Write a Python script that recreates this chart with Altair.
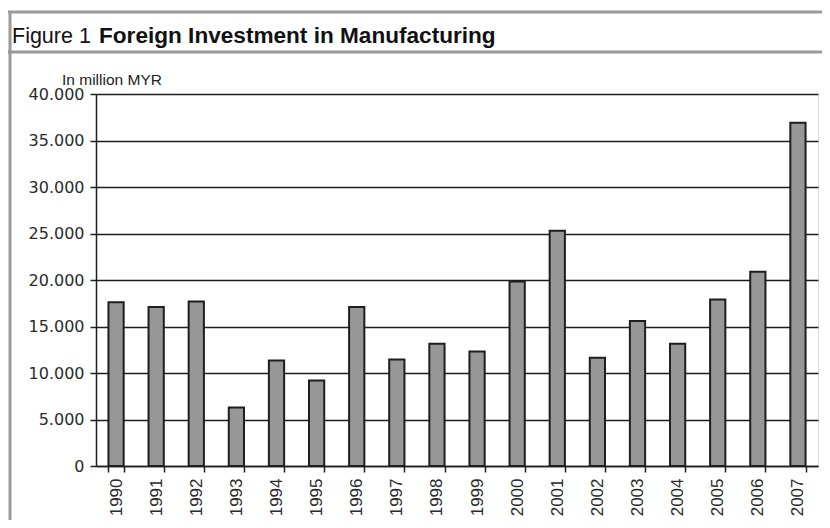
import altair as alt
import pandas as pd

years = [str(y) for y in range(1990, 2008)]
values = [17600, 17100, 17700, 6300, 11350, 9200, 17100, 11450, 13150,
          12300, 19850, 25300, 11650, 15600, 13150, 17900, 20900, 36900]
y_ticks = [0, 5000, 10000, 15000, 20000, 25000, 30000, 35000, 40000]

df = pd.DataFrame({"year": years, "value": values})

W, H = 722, 372
FONT = "Liberation Sans"
DARK = "#1e1e1e"
FRAME = "#9a9a9a"

bars = alt.Chart(df).mark_bar(fill="#979797", stroke=DARK, strokeWidth=2).encode(
    x=alt.X("year:N", sort=years,
            scale=alt.Scale(paddingInner=0.62, paddingOuter=0.31),
            axis=alt.Axis(title=None, labelAngle=-90, labelFontSize=17, labelFont=FONT,
                          labelColor="#2a2a2a", tickBand="extent", tickSize=6, tickColor=DARK,
                          tickWidth=1.5, domainColor=DARK, domainWidth=1.5, labelPadding=6,
                          grid=False, labelAlign="right", labelBaseline="middle")),
    y=alt.Y("value:Q", scale=alt.Scale(domain=[0, 40000], nice=False),
            axis=alt.Axis(title=None, values=y_ticks,
                          labelExpr="replace(format(datum.value, ','), ',', '.')",
                          labelFontSize=16, labelFont="DejaVu Sans", labelColor="#2a2a2a",
                          tickSize=6, tickColor=DARK, tickWidth=1.5, domainColor=DARK,
                          domainWidth=1.5, labelPadding=6, grid=True, gridColor=DARK,
                          gridWidth=1.5)),
)

one = alt.Data(values=[{}])

frame_top = alt.Chart(one).mark_rule(color=FRAME, strokeWidth=3).encode(
    x=alt.value(-88), x2=alt.value(740), y=alt.value(-82))
frame_sep = alt.Chart(one).mark_rule(color=FRAME, strokeWidth=3).encode(
    x=alt.value(-88), x2=alt.value(740), y=alt.value(-42))
frame_left = alt.Chart(one).mark_rule(color=FRAME, strokeWidth=3).encode(
    x=alt.value(-86), y=alt.value(-83), y2=alt.value(440))

fig_label = alt.Chart(one).mark_text(text="Figure 1", align="left", baseline="alphabetic",
                                      fontSize=21.5, font=FONT, color="#111").encode(
    x=alt.value(-84), y=alt.value(-51))
fig_title = alt.Chart(one).mark_text(text="Foreign Investment in Manufacturing", align="left",
                                      baseline="alphabetic", fontSize=22.6, font=FONT,
                                      fontWeight="bold", color="#111").encode(
    x=alt.value(3), y=alt.value(-51))
unit = alt.Chart(one).mark_text(text="In million MYR", align="left", baseline="alphabetic",
                                 fontSize=15.5, font=FONT, color="#222").encode(
    x=alt.value(-34), y=alt.value(-9))

chart = alt.layer(bars, frame_top, frame_sep, frame_left, fig_label, fig_title, unit).properties(
    width=W, height=H,
    autosize=alt.AutoSizeParams(type="none"),
    padding={"left": 88, "top": 86, "right": 4, "bottom": 54},
).configure_view(stroke=DARK, strokeWidth=1.5).configure(background="white")

chart.save("out.html", embed_options={"renderer": "svg", "actions": False})
